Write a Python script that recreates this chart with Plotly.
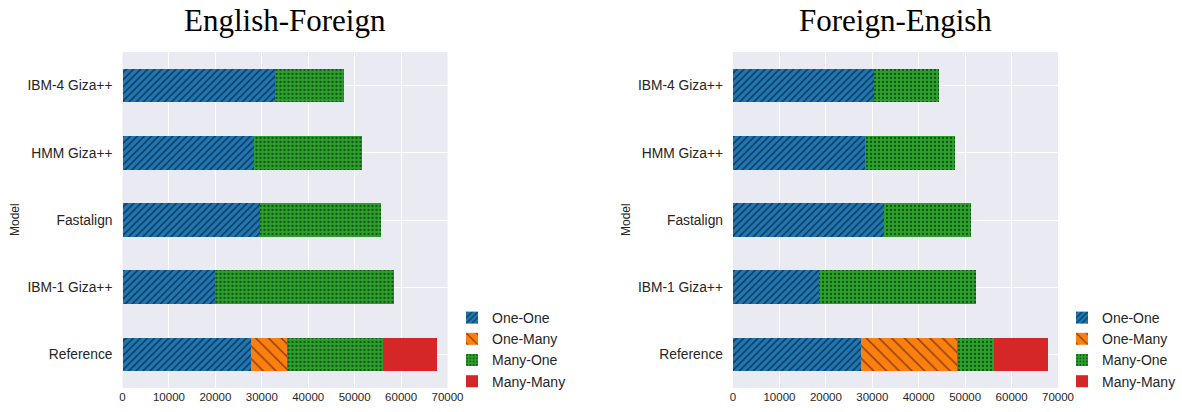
import plotly.graph_objects as go

models = ["Reference", "IBM-1 Giza++", "Fastalign", "HMM Giza++", "IBM-4 Giza++"]
series = ["One-One", "One-Many", "Many-One", "Many-Many"]

# English-Foreign
ef_one_one = [27650, 19930, 29650, 28250, 32950]
ef_one_many = [7700, 0, 0, 0, 0]
ef_many_one = [20660, 38550, 25950, 23230, 14660]
ef_many_many = [11700, 0, 0, 0, 0]

# Foreign-English
fe_one_one = [27650, 18620, 32610, 28380, 30450]
fe_one_many = [20700, 0, 0, 0, 0]
fe_many_one = [7840, 33820, 18550, 19420, 13910]
fe_many_many = [11590, 0, 0, 0, 0]

x_ticks = [0, 10000, 20000, 30000, 40000, 50000, 60000, 70000]
titles = ["English-Foreign", "Foreign-Engish"]

colors = ["#1f77b4", "#ff7f0e", "#2ca02c", "#d62728"]
patterns = [
    dict(shape="/", size=5, solidity=0.32, fgcolor="#000000"),
    dict(shape="\\", size=9, solidity=0.16, fgcolor="#000000"),
    dict(shape=".", size=4, solidity=0.25, fgcolor="#000000"),
    dict(shape="", fgcolor="#000000"),
]

W, H = 1182, 412
fig = go.Figure()

panels = [
    (titles[0], [ef_one_one, ef_one_many, ef_many_one, ef_many_many], "x", "y", "legend"),
    (titles[1], [fe_one_one, fe_one_many, fe_many_one, fe_many_many], "x2", "y2", "legend2"),
]

for title, vals, xa, ya, lg in panels:
    for name, v, c, p in zip(series, vals, colors, patterns):
        fig.add_trace(go.Bar(
            y=models, x=v, name=name, orientation="h",
            xaxis=xa, yaxis=ya, legend=lg, width=0.5,
            marker=dict(color=c, pattern=p, line=dict(width=0)),
        ))

def px_x(p):
    return p / W

def px_y(p):
    return 1 - p / H

xdom1 = [px_x(122.5), px_x(447.5)]
xdom2 = [px_x(733), px_x(1058)]
ydom = [px_y(388), px_y(52)]

axis_x = dict(range=[0, 70000], tickvals=x_ticks, tickformat="d", showgrid=True,
              gridcolor="white", gridwidth=1, zeroline=False, showline=False, ticks="",
              automargin=False,
              tickfont=dict(family="Liberation Sans", size=11.5, color="#262626"))
axis_y = dict(showgrid=True, gridcolor="white", gridwidth=1, zeroline=False, showline=False,
              ticks="", range=[-0.5, 4.5], categoryorder="array", categoryarray=models,
              automargin=False,
              tickfont=dict(family="Liberation Sans", size=13.8, color="#262626"), ticklabelstandoff=9)

legend_common = dict(xanchor="left", yanchor="top", traceorder="normal",
                     font=dict(family="Liberation Sans", size=14, color="#262626"),
                     bgcolor="rgba(0,0,0,0)", tracegroupgap=0, itemsizing="constant")

fig.update_layout(
    width=W, height=H, autosize=False, margin=dict(l=0, r=0, t=0, b=0, pad=0),
    paper_bgcolor="white", plot_bgcolor="#EAEAF2",
    barmode="stack", bargap=0.5,
    xaxis=dict(domain=xdom1, anchor="y", **axis_x),
    yaxis=dict(domain=ydom, anchor="x", **axis_y),
    xaxis2=dict(domain=xdom2, anchor="y2", **axis_x),
    yaxis2=dict(domain=ydom, anchor="x2", **axis_y),
    legend=dict(x=px_x(452), y=px_y(302), **legend_common),
    legend2=dict(x=px_x(1062), y=px_y(302), **legend_common),
    showlegend=True,
)

for t, cx in zip(titles, [(122.5 + 447.5) / 2, (733 + 1058) / 2]):
    fig.add_annotation(text=t, xref="paper", yref="paper", x=px_x(cx), y=px_y(21),
                       xanchor="center", yanchor="middle", showarrow=False,
                       font=dict(family="Liberation Serif", size=31, color="#000000"))

for lx in [15, 626]:
    fig.add_annotation(text="Model", xref="paper", yref="paper", x=px_x(lx), y=px_y(220),
                       xanchor="center", yanchor="middle", showarrow=False, textangle=-90,
                       font=dict(family="Liberation Sans", size=12, color="#262626"))

post = (
    "document.documentElement.style.margin='0';"
    "document.documentElement.style.overflow='hidden';"
    "document.body.style.margin='0';"
    "document.body.style.padding='0';"
    "document.body.style.overflow='hidden';"
)
fig.write_html("out.html", post_script=post, config={"displayModeBar": False})
